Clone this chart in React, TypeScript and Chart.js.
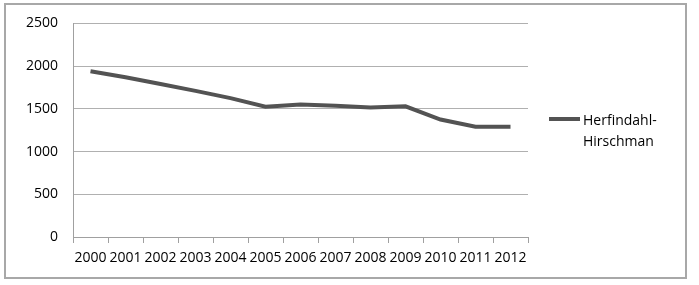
import React, { useEffect, useRef } from "react";
import { Chart, registerables } from "chart.js";

Chart.register(...registerables);

const years = ["2000", "2001", "2002", "2003", "2004", "2005", "2006", "2007", "2008", "2009", "2010", "2011", "2012"];
const hhiValues = [1940, 1870, 1790, 1710, 1625, 1525, 1550, 1535, 1515, 1530, 1375, 1290, 1290];
const seriesLabel = "Herfindahl-Hirschman";
const legendLines = ["Herfindahl-", "Hirschman"];
const yTicks = [0, 500, 1000, 1500, 2000, 2500];

const FONT = "'Open Sans', 'Noto Sans', sans-serif";
const LINE_COLOR = "#535353";

const framePlugin = {
  id: "frameAndLegend",
  beforeDraw(chart: any) {
    const ctx = chart.ctx;
    ctx.save();
    ctx.fillStyle = "#ffffff";
    ctx.fillRect(0, 0, chart.width, chart.height);
    ctx.strokeStyle = "#a8a8a8";
    ctx.lineWidth = 2;
    ctx.strokeRect(5, 4, 681, 274);
    ctx.restore();
  },
  afterDraw(chart: any) {
    const ctx = chart.ctx;
    const area = chart.chartArea;
    ctx.save();
    const ly = 119;
    const lx = area.right + 21;
    ctx.strokeStyle = LINE_COLOR;
    ctx.lineWidth = 4;
    ctx.beginPath();
    ctx.moveTo(lx, ly);
    ctx.lineTo(lx + 31, ly);
    ctx.stroke();
    ctx.fillStyle = "#000000";
    ctx.font = `14px ${FONT}`;
    ctx.textBaseline = "middle";
    ctx.textAlign = "left";
    legendLines.forEach((t, i) => ctx.fillText(t, lx + 34, ly + 2 + i * 21));
    ctx.restore();
  },
};

export default function App() {
  const ref = useRef<HTMLCanvasElement | null>(null);
  useEffect(() => {
    document.body.style.margin = "0";
    const chart = new Chart(ref.current as HTMLCanvasElement, {
      type: "line",
      data: {
        labels: years,
        datasets: [
          {
            label: seriesLabel,
            data: hhiValues,
            borderColor: LINE_COLOR,
            borderWidth: 4,
            pointRadius: 0,
            tension: 0,
            fill: false,
          },
        ],
      },
      options: {
        responsive: false,
        animation: false,
        layout: { padding: { left: 0, top: 18, right: 171, bottom: 0 } },
        plugins: { legend: { display: false }, tooltip: { enabled: false } },
        scales: {
          x: {
            offset: true,
            grid: {
              offset: true,
              drawOnChartArea: false,
              drawTicks: true,
              tickLength: 6,
              color: "#a0a0a0",
            },
            border: { color: "#a0a0a0", width: 1 },
            ticks: {
              color: "#000000",
              font: { family: FONT, size: 14 },
              padding: 7,
              maxRotation: 0,
              autoSkip: false,
            },
            afterFit: (scale: any) => {
              scale.height = 48;
            },
          },
          y: {
            min: 0,
            max: 2500,
            afterBuildTicks: (scale: any) => {
              scale.ticks = yTicks.map((v) => ({ value: v }));
            },
            grid: { color: "#b0b0b0", drawTicks: false, lineWidth: 1 },
            border: { color: "#a0a0a0", width: 1 },
            ticks: {
              color: "#000000",
              font: { family: FONT, size: 14 },
              padding: 15,
              callback: (v: any) => String(v),
            },
            afterFit: (scale: any) => {
              scale.width = 73;
            },
          },
        },
      },
      plugins: [framePlugin],
    } as any);
    return () => chart.destroy();
  }, []);
  return (
    <div style={{ width: 699, height: 285 }}>
      <canvas ref={ref} width={699} height={285} />
    </div>
  );
}
